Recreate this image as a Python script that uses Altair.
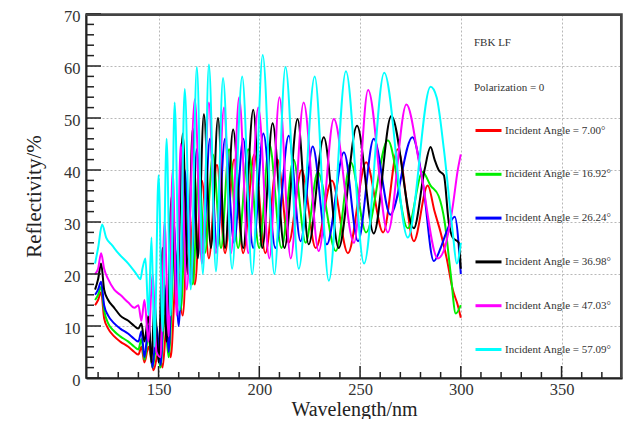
import altair as alt
import pandas as pd

# ---------------- data ----------------
labels = [
    "Incident Angle = 7.00°",
    "Incident Angle = 16.92°",
    "Incident Angle = 26.24°",
    "Incident Angle = 36.98°",
    "Incident Angle = 47.03°",
    "Incident Angle = 57.09°",
]
colors = ["#ff0000", "#00ee00", "#0000ff", "#000000", "#ff00ff", "#00ffff"]

red_x = [118.5, 120, 121.5, 123, 125, 128, 131, 135, 138, 140, 141.5, 143, 145, 147.5, 150, 152, 154, 156, 159, 162,
         165, 168, 171.5, 175, 179, 183, 187.5, 192, 197.5, 203, 209, 214.6, 221, 228, 236, 244, 253, 261.5, 268.7,
         276.7, 283.6, 287, 290, 293, 296, 298.5, 300]
red_y = [14, 15, 16.5, 11.5, 9.5, 8, 7, 6, 5, 4.5, 6, 3, 6, 1.5, 5, 2, 10, 4, 22, 12,
         33, 18, 38, 23, 41, 24, 42, 24, 43, 24, 42, 26, 40, 25, 38, 24, 41.5, 28, 44,
         26.3, 37, 32, 28, 23, 17, 14, 11.6]

green_x = [118.5, 120, 121.5, 123, 125, 128, 131, 135, 138, 140, 141.5, 143, 145, 147, 149, 151, 153, 155, 158, 161,
           164, 167, 170, 173, 177, 181, 185, 189.5, 194.5, 200, 205, 211, 217, 223, 229, 238, 245.4, 253, 263.8,
           273.7, 281, 285, 289, 292, 295, 297.5, 300]
green_y = [15, 16, 17.5, 13, 10.5, 9, 8, 7, 6, 5.5, 7.5, 3.5, 8, 2, 6, 2, 12, 4, 25, 13,
           36, 18, 40, 24, 43, 25, 44, 25, 44, 25, 45, 25, 42, 26, 39.6, 24.4, 41.5, 28, 45.7,
           28.8, 39.6, 37, 35, 30, 20, 12.4, 14]

blue_x = [118.5, 120, 121.5, 123, 125, 128, 131, 135, 138, 140, 141.5, 143, 145, 147, 149, 151, 153, 155, 157.5, 160,
          163, 166, 169, 172, 175.5, 179, 183, 187.5, 192, 197, 202, 208, 214.6, 220.5, 226.5, 233.5, 242, 249, 256.8,
          265, 276, 281, 286.6, 290, 292.8, 297, 300]
blue_y = [16, 17, 18.5, 14, 12, 10.5, 9.5, 8.5, 7.5, 7, 9, 4, 10, 2, 10, 2.5, 18, 5, 30, 10,
          40, 18, 44, 24, 46, 25, 46, 26, 46, 25, 47, 25, 46.6, 26.3, 44.5, 25.7, 43.4, 26.3, 46,
          31.4, 46.3, 38, 22.5, 25, 28, 31, 20]

black_x = [118.5, 120, 121.5, 123, 125, 128, 131, 135, 138, 140, 141.5, 143, 145, 146.5, 148, 150, 152, 154, 156.5,
           159, 162, 164.5, 167, 169.5, 172.5, 176, 179.5, 183, 187, 192, 197, 201.5, 206.6, 212.5, 219, 224.5, 232,
           239.4, 248.5, 256.8, 265.5, 276.7, 282, 285, 287, 289, 291.6, 294, 296, 299, 300]
black_y = [17, 19, 22, 17, 15, 13.5, 12, 11, 10, 9.5, 10.5, 7, 12, 3, 15, 3, 25, 7, 35,
           14, 47, 20, 48, 23, 50.7, 25, 50, 25, 47.8, 25, 51.6, 25, 49, 25, 49.8, 25.7, 46.3,
           25, 48.5, 27.8, 50.4, 28.8, 40, 44.4, 42, 40, 39, 30, 27, 26, 21]

magenta_x = [118.5, 120, 121.5, 123, 125, 128, 131, 135, 138, 140, 141.5, 143, 145, 147, 149, 151, 153, 155, 157,
             159, 161, 164, 168, 171.5, 175, 178.5, 182.5, 186, 190, 194.5, 199.5, 205, 210, 215.6, 222, 229.5, 237,
             247, 254, 263.8, 273, 280, 288.6, 292, 296, 298.5, 300]
magenta_y = [20, 21, 24, 21, 19, 17, 16, 14.5, 13.5, 14, 11, 15, 7, 20, 5, 4, 30, 8, 40,
             12, 45, 17, 53.6, 22, 53, 24, 52, 24, 54, 24, 52, 23, 54, 23, 53, 24.4, 49.8,
             26, 55.4, 28, 52.6, 40, 23, 25, 33, 40, 43]

cyan_x = [118.5, 120, 122, 124, 127, 130, 135, 139, 141, 142, 143.5, 145, 146.5, 148, 150, 152, 154, 156, 158, 160.5,
          163, 166, 169, 172, 175, 178.5, 182, 186.5, 191.5, 196.5, 201.7, 207.5, 213, 219.6, 227.5, 234.5, 243, 252,
          262, 273.7, 285, 288, 291.6, 296, 298, 300]
cyan_y = [22, 25, 29.5, 27, 25.5, 24, 22, 20, 19, 21, 23, 12, 27, 6, 39, 9, 46, 12, 53, 13,
          55.6, 17, 59.8, 20, 60.3, 20.5, 57.7, 21, 58, 20, 62.1, 20, 59.8, 21, 58, 18.7, 59, 22,
          58.7, 27, 56, 54, 44, 28, 22, 26]

x_label_ticks = [150, 200, 250, 300, 350]
x_minor_ticks = [120, 130, 140, 160, 170, 180, 190, 210, 220, 230, 240, 260, 270, 280, 290,
                 310, 320, 330, 340, 360, 370]
y_label_ticks = [0, 10, 20, 30, 40, 50, 60, 70]
y_minor_ticks = [2, 4, 6, 8, 12, 14, 16, 18, 22, 24, 26, 28, 32, 34, 36, 38, 42, 44, 46, 48,
                 52, 54, 56, 58, 62, 64, 66, 68]

# ---------------- build table ----------------
series = [
    (labels[0], red_x, red_y),
    (labels[1], green_x, green_y),
    (labels[2], blue_x, blue_y),
    (labels[3], black_x, black_y),
    (labels[4], magenta_x, magenta_y),
    (labels[5], cyan_x, cyan_y),
]
rows = []
for name, xs, ys in series:
    for xv, yv in zip(xs, ys):
        rows.append({"series": name, "wl": xv, "refl": yv})
df = pd.DataFrame(rows)

SERIF = "Liberation Serif"
W, H = 536, 364
xscale = alt.Scale(domain=[114, 380], nice=False, zero=False)
yscale = alt.Scale(domain=[0, 70], nice=False, zero=False)
NB = "\u00a0" * 12

xaxis = alt.Axis(values=x_label_ticks, title="Wavelength/nm", format="d",
                 labelFont=SERIF, labelFontSize=16.5, labelColor="#333",
                 titleFont=SERIF, titleFontSize=20, titleFontWeight="normal", titleColor="#222",
                 titleBaseline="alphabetic", titleY=37,
                 ticks=False, tickSize=0, labelPadding=3,
                 grid=True, gridDash=[2, 2], gridColor="#b8b8b8", gridWidth=1,
                 domainColor="#222", domainWidth=2)
yaxis = alt.Axis(values=y_label_ticks, title="Reflectivity/%", format="d",
                 labelFont=SERIF, labelFontSize=16.5, labelColor="#333", labelOffset=2.5,
                 titleFont=SERIF, titleFontSize=21, titleFontWeight="normal", titleColor="#222",
                 titleBaseline="alphabetic", titleX=-46,
                 ticks=False, tickSize=0, labelPadding=6,
                 grid=True, gridDash=[2, 2], gridColor="#b8b8b8", gridWidth=1,
                 domainColor="#222", domainWidth=2)

lines = alt.Chart(df).mark_line(strokeWidth=2, interpolate="monotone").encode(
    x=alt.X("wl:Q", scale=xscale, axis=xaxis),
    y=alt.Y("refl:Q", scale=yscale, axis=yaxis),
    color=alt.Color("series:N", sort=labels,
                    scale=alt.Scale(domain=labels, range=colors),
                    legend=alt.Legend(orient="none", legendX=388, legendY=23, direction="vertical",
                                      title=[NB + "FBK LF", NB + "Polarization = 0"],
                                      titleFont=SERIF, titleFontSize=11, titleFontWeight="normal",
                                      titleColor="#333", titleLineHeight=45, titlePadding=23,
                                      labelFont=SERIF, labelFontSize=11, labelColor="#333",
                                      symbolType="stroke", symbolSize=676, symbolStrokeWidth=3,
                                      labelOffset=2, rowPadding=22.8, padding=0, labelLimit=200)),
)

xmaj = alt.Chart(pd.DataFrame({"wl": x_label_ticks})).mark_rule(color="#222", strokeWidth=1.5).encode(
    x=alt.X("wl:Q", scale=xscale, axis=xaxis), y=alt.value(H), y2=alt.value(H - 12))
xmin = alt.Chart(pd.DataFrame({"wl": x_minor_ticks})).mark_rule(color="#222", strokeWidth=1.5).encode(
    x=alt.X("wl:Q", scale=xscale, axis=xaxis), y=alt.value(H), y2=alt.value(H - 6))
ymaj = alt.Chart(pd.DataFrame({"refl": y_label_ticks})).mark_rule(color="#222", strokeWidth=1.5).encode(
    y=alt.Y("refl:Q", scale=yscale, axis=yaxis), x=alt.value(0), x2=alt.value(15))
ymin = alt.Chart(pd.DataFrame({"refl": y_minor_ticks})).mark_rule(color="#222", strokeWidth=1.5).encode(
    y=alt.Y("refl:Q", scale=yscale, axis=yaxis), x=alt.value(0), x2=alt.value(8))

# plot frame: top and right edges of the ROOT-style box
frame_top = alt.Chart(pd.DataFrame({"refl": [69.8]})).mark_rule(color="#444", strokeWidth=2).encode(
    y=alt.Y("refl:Q", scale=yscale, axis=yaxis), x=alt.value(0), x2=alt.value(W))
frame_right = alt.Chart(pd.DataFrame({"wl": [379.5]})).mark_rule(color="#444", strokeWidth=2).encode(
    x=alt.X("wl:Q", scale=xscale, axis=xaxis), y=alt.value(0), y2=alt.value(H))

chart = alt.layer(lines, xmaj, xmin, ymaj, ymin, frame_top, frame_right).properties(
    width=W, height=H,
    autosize=alt.AutoSizeParams(type="none"),
    padding={"left": 78, "top": 6, "right": 2, "bottom": 41},
).configure_view(stroke="#444", strokeWidth=1.5)

chart.save("out.html", embed_options={"renderer": "svg", "actions": False})
